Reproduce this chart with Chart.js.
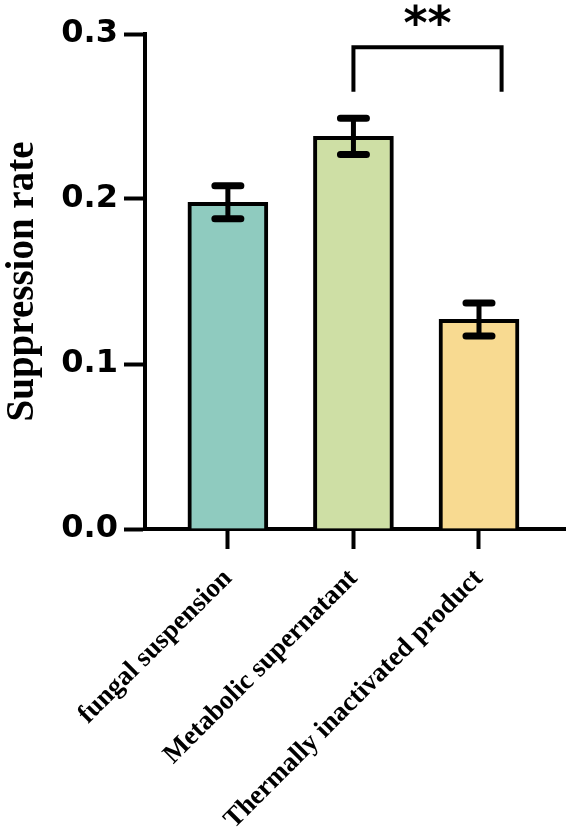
<!DOCTYPE html>
<html>
<head>
<meta charset="utf-8">
<script src="https://cdn.jsdelivr.net/npm/chart.js@4.4.1/dist/chart.umd.min.js"></script>
<style>
  html, body { margin: 0; padding: 0; background: #fff; }
  #wrap { width: 570px; height: 830px; }
</style>
</head>
<body>
<div id="wrap"><canvas id="suppressionChart"></canvas></div>
<script>
const categories = ["fungal suspension", "Metabolic supernatant", "Thermally inactivated product"];
const categoryPos = [1, 2, 3];
const meanValues = [0.198, 0.238, 0.127];
const errorValues = [0.010, 0.011, 0.010];
const barColors = ["#8FCBBF", "#CEDFA5", "#F8DA91"];
const yTicks = [0, 0.1, 0.2, 0.3];
// significance bracket: x from / to, y top / leg bottom, label
const sigX = [2, 3.18];
const sigY = [0.292, 0.265];
const sigLabel = "**";

const errorBarPlugin = {
  id: "errorBars",
  afterDatasetsDraw(chart) {
    const { ctx, scales: { x, y } } = chart;
    ctx.save();
    ctx.strokeStyle = "#000";
    categoryPos.forEach((pos, i) => {
      const px = x.getPixelForValue(pos);
      const top = y.getPixelForValue(meanValues[i] + errorValues[i]);
      const bot = y.getPixelForValue(meanValues[i] - errorValues[i]);
      ctx.lineWidth = 5;
      ctx.lineCap = "butt";
      ctx.beginPath();
      ctx.moveTo(px, top);
      ctx.lineTo(px, bot);
      ctx.stroke();
      ctx.lineWidth = 7;
      ctx.lineCap = "round";
      ctx.beginPath();
      ctx.moveTo(px - 13, top);
      ctx.lineTo(px + 13, top);
      ctx.moveTo(px - 13, bot);
      ctx.lineTo(px + 13, bot);
      ctx.stroke();
    });
    ctx.restore();
  },
  afterDraw(chart) {
    const { ctx, scales: { x, y } } = chart;
    const x1 = x.getPixelForValue(sigX[0]);
    const x2 = x.getPixelForValue(sigX[1]);
    const yTop = y.getPixelForValue(sigY[0]);
    const yLeg = y.getPixelForValue(sigY[1]);
    ctx.save();
    ctx.strokeStyle = "#000";
    ctx.lineWidth = 4;
    ctx.lineJoin = "miter";
    ctx.beginPath();
    ctx.moveTo(x1, yLeg);
    ctx.lineTo(x1, yTop);
    ctx.lineTo(x2, yTop);
    ctx.lineTo(x2, yLeg);
    ctx.stroke();
    ctx.fillStyle = "#000";
    ctx.font = "bold 46px 'DejaVu Sans'";
    ctx.textAlign = "center";
    ctx.textBaseline = "alphabetic";
    ctx.fillText(sigLabel, (x1 + x2) / 2, yTop - 8);
    ctx.restore();
  }
};

new Chart(document.getElementById("suppressionChart"), {
  type: "bar",
  data: {
    datasets: [{
      data: categoryPos.map((pos, i) => ({ x: pos, y: meanValues[i] })),
      backgroundColor: barColors,
      borderColor: "#000",
      borderWidth: 4,
      borderSkipped: "bottom",
      barThickness: 80
    }]
  },
  options: {
    responsive: true,
    maintainAspectRatio: false,
    animation: false,
    events: [],
    layout: { padding: { top: 34, right: 5, left: 0, bottom: 0 } },
    plugins: {
      legend: { display: false },
      tooltip: { enabled: false }
    },
    scales: {
      x: {
        type: "linear",
        min: 0.34,
        max: 3.685,
        offset: false,
        afterBuildTicks(scale) {
          scale.ticks = categoryPos.map(v => ({ value: v }));
        },
        afterFit(scale) { scale.height = 301; },
        border: { display: true, color: "#000", width: 4 },
        grid: {
          offset: false,
          drawOnChartArea: false,
          drawTicks: true,
          tickLength: 20,
          tickWidth: 4,
          tickColor: "#000"
        },
        ticks: {
          autoSkip: false,
          minRotation: 45,
          maxRotation: 45,
          padding: 14,
          color: "#000",
          font: { family: "'Liberation Serif'", weight: "bold", size: 27 },
          callback(value) {
            const i = categoryPos.indexOf(value);
            return i >= 0 ? categories[i] : "";
          }
        }
      },
      y: {
        min: 0,
        max: 0.3,
        afterBuildTicks(scale) {
          scale.ticks = yTicks.map(v => ({ value: v }));
        },
        afterFit(scale) { scale.width = 145; },
        border: { display: true, color: "#000", width: 4 },
        grid: {
          drawOnChartArea: false,
          drawTicks: true,
          tickLength: 21,
          tickWidth: 4,
          tickColor: "#000"
        },
        ticks: {
          padding: 6,
          color: "#000",
          font: { family: "'DejaVu Sans'", weight: "bold", size: 32 },
          callback: v => v.toFixed(1)
        },
        title: {
          display: true,
          text: "Suppression rate",
          color: "#000",
          padding: { top: 0, bottom: 0 },
          font: { family: "'Liberation Serif'", weight: "bold", size: 39 }
        }
      }
    }
  },
  plugins: [errorBarPlugin]
});
</script>
</body>
</html>
